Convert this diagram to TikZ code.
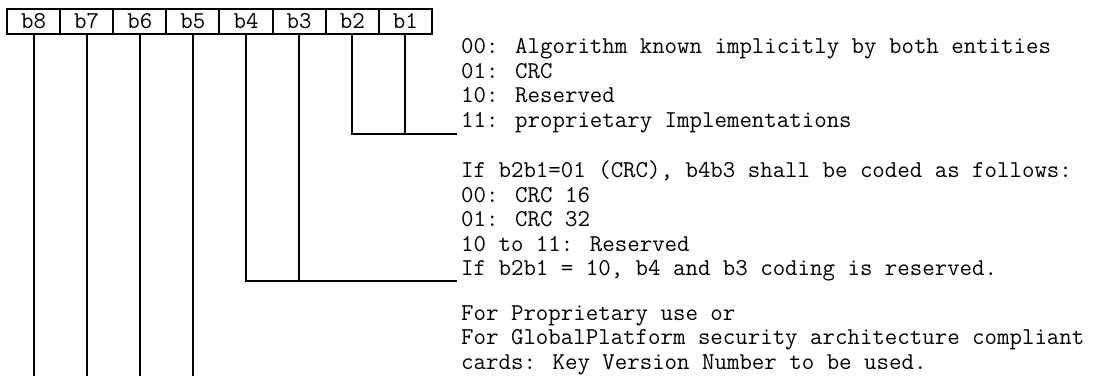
\documentclass[tikz,border=0pt]{standalone}
\usepackage{fontspec}
\usepackage{tikz}
\usetikzlibrary{positioning}

\tikzset{
  bitcell/.style={draw, line width=2pt, outer sep=0pt, inner sep=0pt,
                  minimum width=53.125pt, minimum height=25pt,
                  font=\ttfamily\fontsize{24.2}{24.4}\selectfont},
  codetext/.style={anchor=base west, align=left, inner sep=0pt,
                   font=\ttfamily\fontsize{24.2}{24.4}\selectfont},
  bitline/.style={line width=2pt}
}

\begin{document}
\begin{tikzpicture}[x=1pt, y=-1pt]
          \useasboundingbox (0,0) rectangle (1104,376);
          % the byte, b8 on the left
          \node[bitcell] (b8) at (33.5,21.5) {b8};
          \node[bitcell, right=0pt of b8] (b7) {b7};
          \node[bitcell, right=0pt of b7] (b6) {b6};
          \node[bitcell, right=0pt of b6] (b5) {b5};
          \node[bitcell, right=0pt of b5] (b4) {b4};
          \node[bitcell, right=0pt of b4] (b3) {b3};
          \node[bitcell, right=0pt of b3] (b2) {b2};
          \node[bitcell, right=0pt of b2] (b1) {b1};

          % codings (base = last line)
          \node[codetext] (algtext) at (461,127)
            {00: Algorithm known implicitly by both entities\\
             01: CRC\\
             10: Reserved\\
             11: proprietary Implementations};
          \node[codetext] (crctext) at (461,275.5)
            {If b2b1=01 (CRC), b4b3 shall be coded as follows:\\
             00: CRC 16\\
             01: CRC 32\\
             10 to 11: Reserved\\
             If b2b1 = 10, b4 and b3 coding is reserved.};
          \node[codetext] (kvntext) at (461,369)
            {For Proprietary use or\\
             For GlobalPlatform security architecture compliant\\
             cards: Key Version Number to be used.};

          \coordinate (algend) at (457,134);
          \coordinate (crcend) at (457,281);
          \coordinate (bottom) at (0,376);
          \draw[bitline] (b2.south) |- (algend);
          \draw[bitline] (b1.south) -- (b1.south |- algend);
          \draw[bitline] (b4.south) |- (crcend);
          \draw[bitline] (b3.south) -- (b3.south |- crcend);
          \draw[bitline] (b8.south) -- (b8.south |- bottom);
          \draw[bitline] (b7.south) -- (b7.south |- bottom);
          \draw[bitline] (b6.south) -- (b6.south |- bottom);
          \draw[bitline] (b5.south) -- (b5.south |- bottom);
        \end{tikzpicture}
\end{document}
